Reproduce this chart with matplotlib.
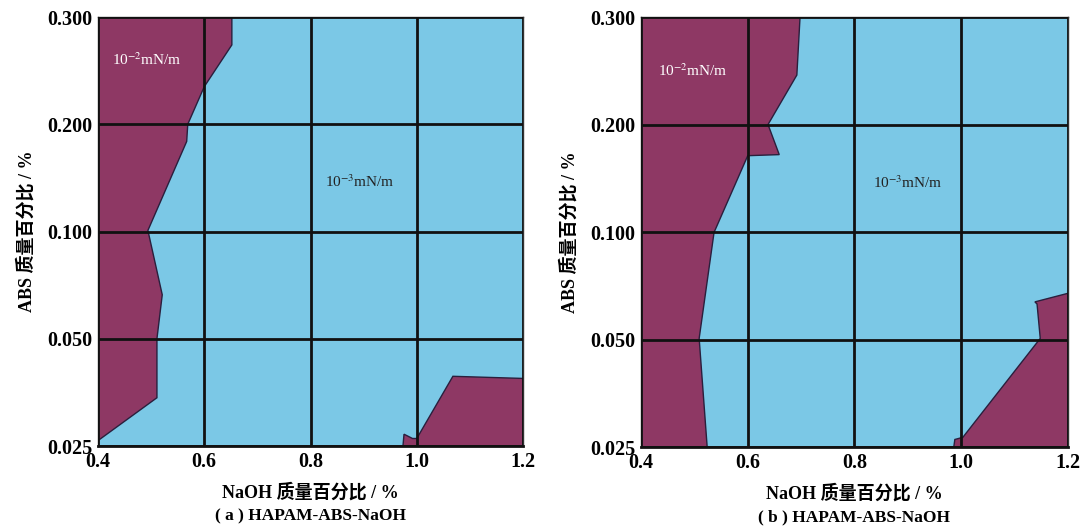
import numpy as np
import matplotlib
matplotlib.use("Agg")
import matplotlib.pyplot as plt

plt.rcParams['font.family'] = ['Liberation Serif', 'Noto Sans CJK SC', 'DejaVu Sans']
plt.rcParams['mathtext.fontset'] = 'stix'

# axis values (y is drawn on equally spaced levels)
x_ticks = [0.4, 0.6, 0.8, 1.0, 1.2]
y_labels = ["0.025", "0.050", "0.100", "0.200", "0.300"]
y_levels = [0, 1, 2, 3, 4]

# (a) boundary of the 10^-2 region on the left
a_left_x = [0.4, 0.652, 0.652, 0.6, 0.569, 0.567, 0.494, 0.521, 0.511, 0.511, 0.4]
a_left_y = [4.0, 4.0, 3.74, 3.35, 3.0, 2.84, 2.01, 1.41, 1.0, 0.45, 0.05]
# (a) region at lower right
a_right_x = [0.974, 0.976, 0.992, 1.0, 1.068, 1.2, 1.2]
a_right_y = [0.0, 0.11, 0.07, 0.07, 0.65, 0.63, 0.0]

# (b) boundary of the 10^-2 region on the left
b_left_x = [0.4, 0.698, 0.692, 0.638, 0.659, 0.6, 0.539, 0.537, 0.509, 0.524, 0.4]
b_left_y = [4.0, 4.0, 3.46, 3.0, 2.72, 2.71, 2.02, 2.0, 1.01, 0.0, 0.0]
# (b) region at lower right
b_right_x = [0.986, 0.988, 1.003, 1.148, 1.142, 1.138, 1.2, 1.2]
b_right_y = [0.0, 0.07, 0.09, 1.01, 1.33, 1.35, 1.43, 0.0]

blue = '#7bc8e6'
maroon = '#8e3864'

fig = plt.figure(figsize=(10.8, 5.27), dpi=100)
ax_a = fig.add_axes([0.0907, 0.1537, 0.3936, 0.814])
ax_b = fig.add_axes([0.5935, 0.1518, 0.3954, 0.8159])


def draw_panel(ax, lx, ly, rx, ry, cap, lab2, lab3):
    ax.set_facecolor(blue)
    ax.fill(lx, ly, color=maroon, ec='#2a1f3d', lw=1.0, zorder=1)
    ax.fill(rx, ry, color=maroon, ec='#2a1f3d', lw=1.0, zorder=1)
    ax.set_xlim(0.4, 1.2)
    ax.set_ylim(0, 4)
    ax.set_xticks(x_ticks)
    ax.set_xticklabels(["%.1f" % v for v in x_ticks])
    ax.set_yticks(y_levels)
    ax.set_yticklabels(y_labels)
    ax.tick_params(length=0, labelsize=14.5, pad=4)
    for t in ax.get_xticklabels() + ax.get_yticklabels():
        t.set_fontweight('bold')
    ax.grid(True, color='#111111', lw=2.0, zorder=2)
    ax.set_axisbelow(False)
    for s in ax.spines.values():
        s.set_color('#333333')
        s.set_linewidth(1.0)
    ax.spines['bottom'].set_color('#111111')
    ax.spines['bottom'].set_linewidth(2.0)
    ax.text(lab2[0], lab2[1], r'10$^{-2}$mN/m', color='white', fontsize=11,
            ha='center', va='center', zorder=3)
    ax.text(lab3[0], lab3[1], r'10$^{-3}$mN/m', color='#222222', fontsize=11,
            ha='center', va='center', zorder=3)
    ax.set_ylabel('ABS 质量百分比 / %', fontsize=13, fontweight='bold', labelpad=8)
    ax.set_xlabel('NaOH 质量百分比 / %', fontsize=13, fontweight='bold', labelpad=8)
    ax.text(0.5, -0.163, cap, transform=ax.transAxes, fontsize=12.5,
            fontweight='bold', ha='center', va='center')


draw_panel(ax_a, a_left_x, a_left_y, a_right_x, a_right_y,
           '( a ) HAPAM-ABS-NaOH', (0.492, 3.6), (0.893, 2.46))
draw_panel(ax_b, b_left_x, b_left_y, b_right_x, b_right_y,
           '( b ) HAPAM-ABS-NaOH', (0.498, 3.5), (0.9, 2.46))

fig.savefig('out.png', dpi=100)
